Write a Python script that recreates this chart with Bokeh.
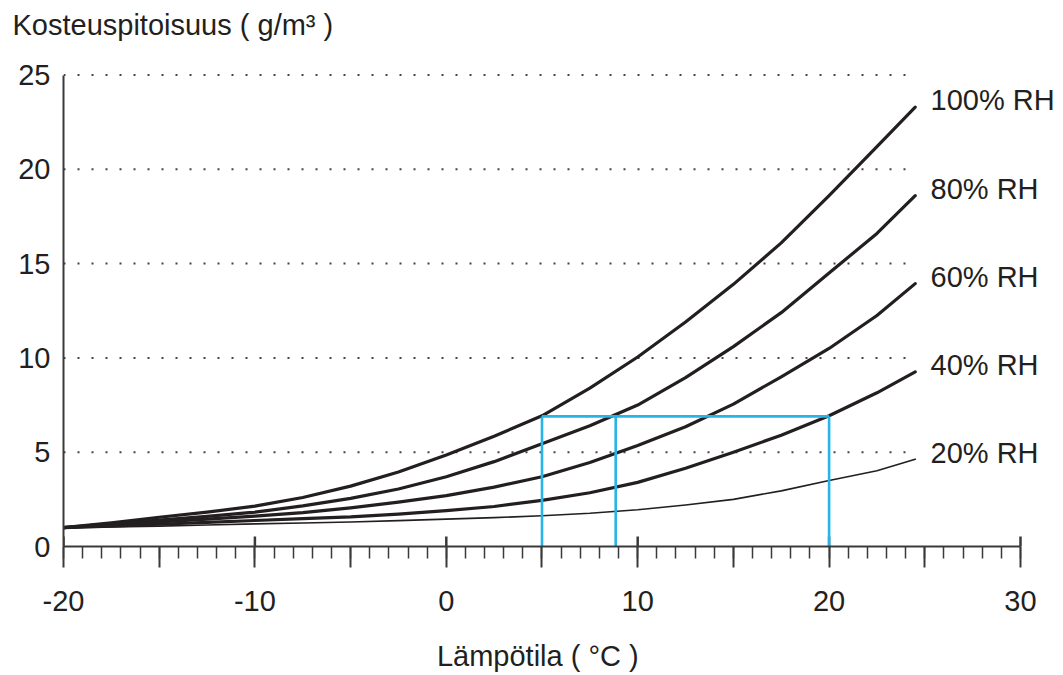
from bokeh.plotting import figure
from bokeh.models import Range1d, FixedTicker
from bokeh.core.properties import value
from bokeh.embed import file_html
from bokeh.resources import INLINE

# ---- data ----
temperature = [-20, -17.5, -15, -12.5, -10, -7.5, -5, -2.5, 0, 2.5, 5, 7.5,
               10, 12.5, 15, 17.5, 20, 22.5, 24.5]
rh100 = [1.0, 1.25, 1.55, 1.82, 2.14, 2.6, 3.2, 3.95, 4.85, 5.85, 6.93, 8.4,
         10.05, 11.9, 13.9, 16.1, 18.6, 21.2, 23.3]
rh80 = [1.0, 1.2, 1.4, 1.6, 1.82, 2.15, 2.55, 3.05, 3.7, 4.5, 5.45, 6.4,
        7.5, 8.95, 10.6, 12.4, 14.5, 16.6, 18.6]
rh60 = [1.0, 1.15, 1.3, 1.45, 1.61, 1.8, 2.05, 2.35, 2.7, 3.15, 3.7, 4.45,
        5.35, 6.35, 7.55, 9.0, 10.5, 12.25, 13.94]
rh40 = [1.0, 1.08, 1.18, 1.28, 1.38, 1.48, 1.57, 1.72, 1.9, 2.12, 2.45, 2.85,
        3.4, 4.15, 5.0, 5.9, 6.93, 8.15, 9.26]
rh20 = [1.0, 1.04, 1.08, 1.14, 1.2, 1.25, 1.3, 1.37, 1.45, 1.53, 1.63, 1.76,
        1.95, 2.2, 2.5, 2.95, 3.5, 4.02, 4.63]
series = [rh100, rh80, rh60, rh40, rh20]
series_labels = ["100% RH", "80% RH", "60% RH", "40% RH", "20% RH"]

x_major_ticks = [-20, -10, 0, 10, 20, 30]
x_major_labels = ["-20", "-10", "0", "10", "20", "30"]
x_mid_ticks = [-15, -5, 5, 15, 25]
x_minor_ticks = list(range(-20, 31))
y_ticks = [0, 5, 10, 15, 20, 25]
grid_levels = [5, 10, 15, 20, 25]

dew_temperatures = [5, 8.85, 20]
moisture_level = 6.9

title_text = "Kosteuspitoisuus ( g/m\u00b3 )"
xlabel_text = "L\u00e4mp\u00f6tila ( \u00b0C )"

# ---- styling ----
FONT = "Liberation Sans"
INK = "#231f20"
AXIS = "#3a3a3a"
BLUE = "#27b4e9"
FS = "29px"

p = figure(width=1060, height=675,
           x_range=Range1d(-20, 32.09), y_range=Range1d(0, 26.46),
           output_backend="svg", toolbar_location=None,
           min_border_left=63, min_border_right=0,
           min_border_top=0, min_border_bottom=129)
p.outline_line_color = None
p.xgrid.visible = False
p.ygrid.visible = False
p.background_fill_color = "white"
p.border_fill_color = "white"

# title
p.title.text = title_text
p.title.align = "left"
p.title.offset = -51
p.title.text_font = FONT
p.title.text_font_size = FS
p.title.text_font_style = "normal"
p.title.text_color = INK
p.title.standoff = 13

# y axis
ya = p.yaxis[0]
ya.ticker = FixedTicker(ticks=y_ticks)
ya.bounds = (0, 25)
ya.major_tick_out = 0
ya.major_tick_in = 0
ya.minor_tick_out = 0
ya.minor_tick_in = 0
ya.axis_line_color = AXIS
ya.axis_line_width = 2
ya.major_label_text_font = FONT
ya.major_label_text_font_size = FS
ya.major_label_text_color = INK
ya.major_label_standoff = 13

# x axis
xa = p.xaxis[0]
xa.ticker = FixedTicker(ticks=sorted(x_major_ticks + x_mid_ticks),
                        minor_ticks=x_minor_ticks)
xa.bounds = (-20, 30)
xa.major_tick_out = 21
xa.major_tick_in = 0
xa.minor_tick_out = 12
xa.minor_tick_in = 0
xa.axis_line_color = AXIS
xa.axis_line_width = 2
xa.major_tick_line_color = AXIS
xa.major_tick_line_width = 2
xa.minor_tick_line_color = AXIS
xa.minor_tick_line_width = 1.5
overrides = {t: "" for t in x_mid_ticks}
overrides.update(dict(zip(x_major_ticks, x_major_labels)))
xa.major_label_overrides = overrides
xa.major_label_text_font = FONT
xa.major_label_text_font_size = FS
xa.major_label_text_color = INK
xa.major_label_standoff = 23
# trailing no-break spaces shift the centred label to sit under -20..30
xa.axis_label = xlabel_text + "\u00a0" * 6
xa.axis_label_text_font = FONT
xa.axis_label_text_font_size = FS
xa.axis_label_text_font_style = "normal"
xa.axis_label_text_color = INK
xa.axis_label_standoff = 26

# upward part of the decade ticks
tick_up = 10 / 18.84
p.segment(x0=x_major_ticks, y0=[0] * len(x_major_ticks),
          x1=x_major_ticks, y1=[tick_up] * len(x_major_ticks),
          line_color=AXIS, line_width=2.5)

# dotted horizontal guide lines
p.segment(x0=[-20] * len(grid_levels), y0=grid_levels,
          x1=[24.55] * len(grid_levels), y1=grid_levels,
          line_color="#444444", line_width=2, line_dash="2 12")

# curves
for vals, lab in zip(series, series_labels):
    w = 1.6 if lab.startswith("20%") else 3.2
    p.line(temperature, vals, line_color=INK, line_width=w,
           line_join="round", line_cap="round")

# blue dew point lines
p.segment(x0=dew_temperatures, y0=[0] * len(dew_temperatures),
          x1=dew_temperatures, y1=[moisture_level] * len(dew_temperatures),
          line_color=BLUE, line_width=2.6)
p.segment(x0=[min(dew_temperatures)], y0=[moisture_level],
          x1=[max(dew_temperatures)], y1=[moisture_level],
          line_color=BLUE, line_width=2.6)

# curve labels
p.text(x=[25.3] * len(series), y=[s[-1] + 0.35 for s in series],
       text=series_labels, text_font=value(FONT), text_font_size=FS,
       text_color=INK, text_baseline="middle", text_align="left")

open("out.html", "w").write(file_html(p, INLINE))
